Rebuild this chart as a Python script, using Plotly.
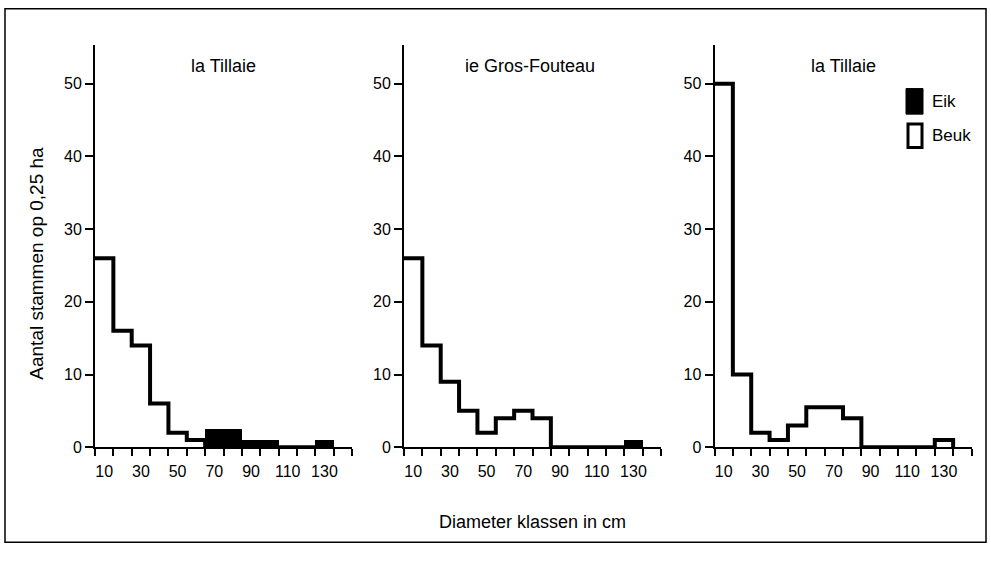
import plotly.graph_objects as go

# ---- data ----
class_centers = [10, 20, 30, 40, 50, 60, 70, 80, 90, 100, 110, 120, 130]
tick_labels = ["10", "30", "50", "70", "90", "110", "130"]
tick_label_vals = [10, 30, 50, 70, 90, 110, 130]

panel_titles = ["la Tillaie", "ie Gros-Fouteau", "la Tillaie"]

beuk_1 = [26, 16, 14, 6, 2, 1, 0, 0, 0, 0, 0, 0, 0]
eik_1 = [0, 0, 0, 0, 0, 0, 2.5, 2.5, 1, 1, 0, 0, 1]

beuk_2 = [26, 14, 9, 5, 2, 4, 5, 4, 0, 0, 0, 0, 0]
eik_2 = [0, 0, 0, 0, 0, 0, 0, 0, 0, 0, 0, 0, 1]

beuk_3 = [50, 10, 2, 1, 3, 5.5, 5.5, 4, 0, 0, 0, 0, 1]
eik_3 = [0, 0, 0, 0, 0, 0, 0, 0, 0, 0, 0, 0, 0]

y_ticks = [0, 10, 20, 30, 40, 50]
legend_labels = ["Eik", "Beuk"]
y_title = "Aantal stammen op 0,25 ha"
x_title = "Diameter klassen in cm"

# ---- layout geometry (pixels) ----
W, H = 991, 562
FONT = "Liberation Sans, Arial, Helvetica, sans-serif"
panels_px = [(95, 352), (404, 661), (714.5, 971.5)]
y0_px, ytop_px = 454.5, 46
y_dom = [(H - y0_px) / H, (H - ytop_px) / H]
yrange_top = (y0_px - ytop_px) / 7.39

fig = go.Figure()
series = [(beuk_1, eik_1), (beuk_2, eik_2), (beuk_3, eik_3)]
bin_w = 10

for i, ((beuk, eik), (xa, xb)) in enumerate(zip(series, panels_px)):
    n = i + 1
    xname = "x" if n == 1 else f"x{n}"
    yname = "y" if n == 1 else f"y{n}"
    # step outline (Beuk)
    lefts = [c - bin_w / 2 for c in class_centers]
    xs = lefts + [class_centers[-1] + bin_w / 2]
    ys = beuk + [0]
    fig.add_trace(go.Scatter(x=xs, y=ys, mode="lines", line_shape="hv",
                             line=dict(color="black", width=4),
                             xaxis=xname, yaxis=yname, showlegend=False,
                             hoverinfo="skip"))
    # filled bars (Eik)
    fig.add_trace(go.Bar(x=class_centers, y=eik, width=bin_w,
                         marker=dict(color="black", line=dict(width=0)),
                         xaxis=xname, yaxis=yname, showlegend=False))
    xkey = "xaxis" if n == 1 else f"xaxis{n}"
    ykey = "yaxis" if n == 1 else f"yaxis{n}"
    fig.layout[xkey] = dict(
        domain=[xa / W, xb / W], range=[5, 145], anchor=yname,
        showline=True, linecolor="black", linewidth=2, showgrid=False,
        zeroline=False, tickvals=tick_label_vals, ticktext=tick_labels,
        ticks="", ticklabelstandoff=9,
        tickfont=dict(family=FONT, size=16, color="black"),
        minor=dict(tick0=5, dtick=10, ticks="outside", ticklen=7,
                   tickwidth=2, tickcolor="black", showgrid=False),
        fixedrange=True,
    )
    fig.layout[ykey] = dict(
        domain=y_dom, range=[0, yrange_top], anchor=xname,
        showline=True, linecolor="black", linewidth=2, showgrid=False,
        zeroline=False, tickvals=y_ticks, ticks="outside", ticklen=8,
        tickwidth=2, tickcolor="black",
        tickfont=dict(family=FONT, size=16, color="black"),
        fixedrange=True,
    )
    fig.add_annotation(text=panel_titles[i], xref=f"{xname} domain", yref="paper",
                       x=[0.5, 0.49, 0.5][i], y=1 - 67 / H, showarrow=False,
                       xanchor="center", yanchor="middle",
                       font=dict(family=FONT, size=18, color="black"))

# axis titles
fig.add_annotation(text=y_title, xref="paper", yref="paper", x=37 / W,
                   y=1 - 268 / H, textangle=-90, showarrow=False,
                   xanchor="center", yanchor="middle",
                   font=dict(family=FONT, size=19, color="black"))
fig.add_annotation(text=x_title, xref="paper", yref="paper", x=532 / W,
                   y=1 - 530 / H, showarrow=False,
                   xanchor="center", yanchor="middle",
                   font=dict(family=FONT, size=18, color="black"))

# legend (drawn)
shapes = [
    dict(type="rect", xref="paper", yref="paper", x0=5 / W, x1=986 / W,
         y0=1 - 551 / H, y1=1 - 9 / H, line=dict(color="black", width=1.5)),
    dict(type="rect", xref="paper", yref="paper", x0=906 / W, x1=923 / W,
         y0=1 - 116 / H, y1=1 - 90 / H, fillcolor="black",
         line=dict(color="black", width=1)),
    dict(type="rect", xref="paper", yref="paper", x0=908 / W, x1=922 / W,
         y0=1 - 150 / H, y1=1 - 126 / H, fillcolor="white",
         line=dict(color="black", width=3)),
]
for lbl, yc in zip(legend_labels, [103, 138]):
    fig.add_annotation(text=lbl, xref="paper", yref="paper", x=930 / W,
                       y=1 - yc / H, xanchor="left", yanchor="middle",
                       showarrow=False,
                       font=dict(family=FONT, size=17, color="black"))

fig.update_layout(width=W, height=H, margin=dict(l=0, r=0, t=0, b=0),
                  paper_bgcolor="white", plot_bgcolor="white",
                  shapes=shapes, bargap=0, showlegend=False)

fig.write_html("out.html")
